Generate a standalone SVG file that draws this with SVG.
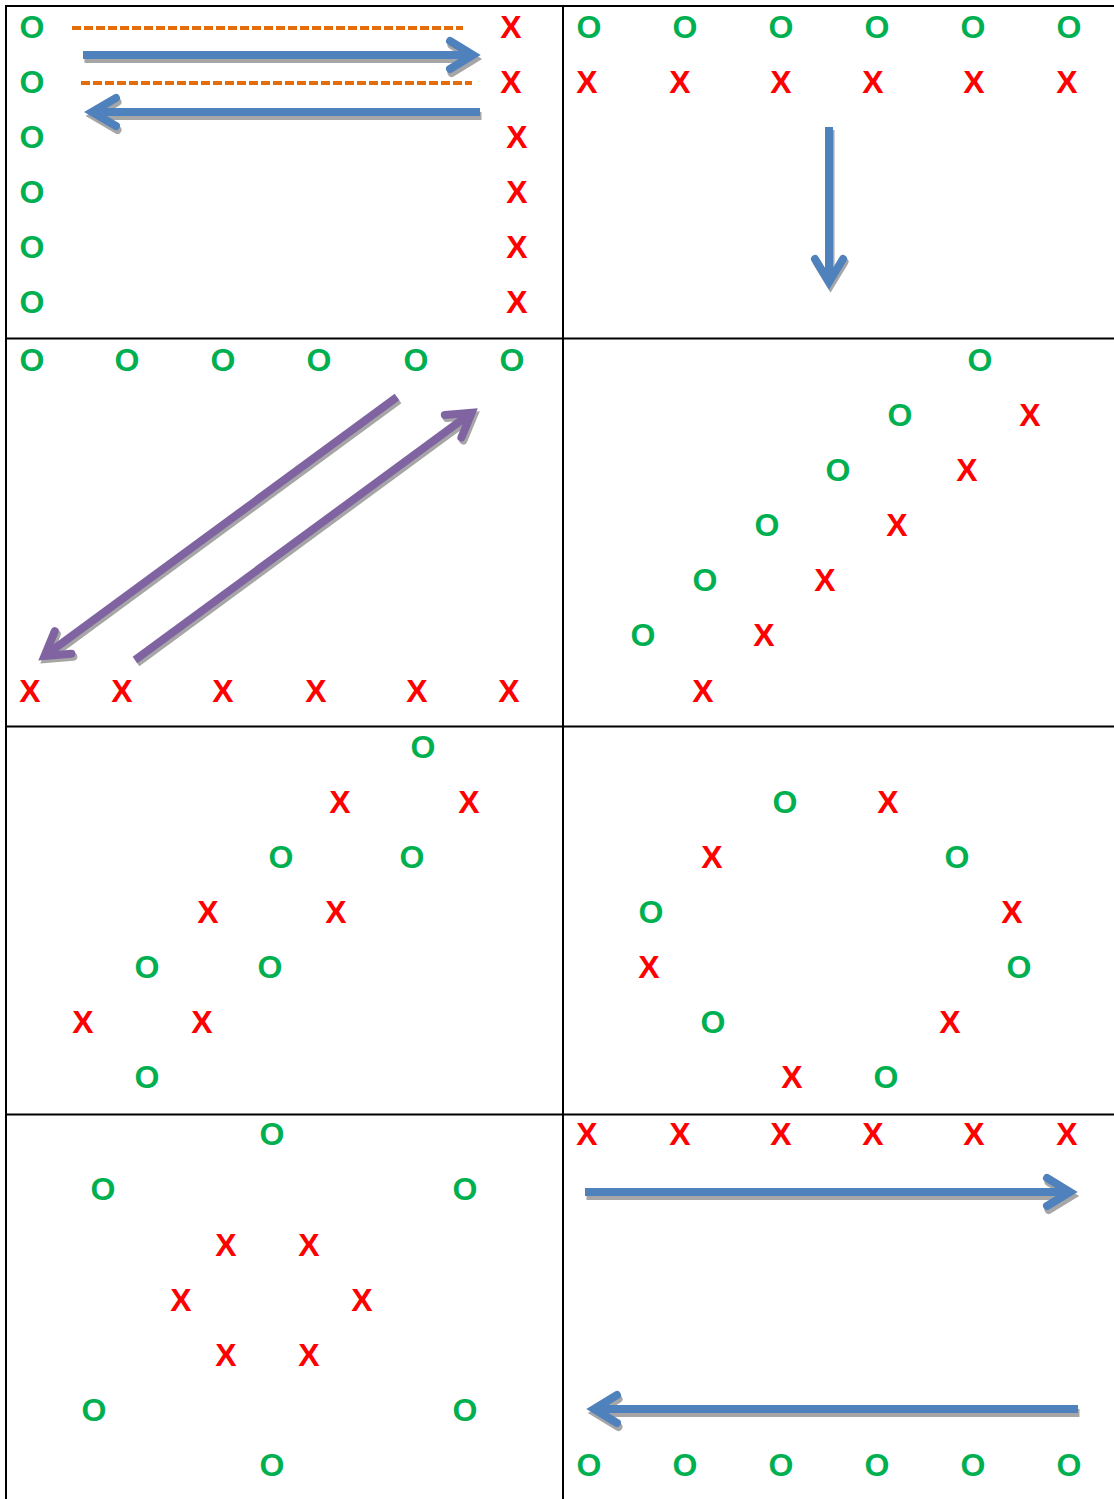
<svg xmlns="http://www.w3.org/2000/svg" xmlns:xlink="http://www.w3.org/1999/xlink" width="1114" height="1499" viewBox="0 0 1114 1499">
<style>
text{font-family:"Liberation Sans",Arial,sans-serif;font-weight:bold;font-size:32px;text-anchor:middle}
.o{fill:#00B050}
.x{fill:#FF0000}
.grid{stroke:#000;stroke-width:2;fill:none}
.arr{fill:none;stroke-width:8}
.sh{stroke-linecap:butt}
.hd{stroke-linecap:round;stroke-linejoin:miter;stroke-miterlimit:10}
.blue{stroke:#4F81BD}
.purple{stroke:#8064A2}
.shadow{stroke:#A6A6A6}
.dash{stroke:#E46C0A;stroke-width:4;stroke-dasharray:9 3;fill:none}
</style>
<rect width="1114" height="1499" fill="#fff"/>
<g id="grid">
<path class="grid" d="M5,6 H1114 M6,5 V1499 M563,5 V1499 M5,338.5 H1114 M5,726.5 H1114 M5,1114.5 H1114"/>
</g>
<g id="connectors">
<defs>
<g id="a1"><path class="sh" d="M83,55 H473"/><path class="hd" d="M450,41 L473,55 L450,69"/></g>
<g id="a2"><path class="sh" d="M480,112 H92"/><path class="hd" d="M116,98 L92,112 L116,126"/></g>
<g id="a3"><path class="sh" d="M829,127 V282"/><path class="hd" d="M815,259 L829,282 L843,259"/></g>
<g id="a4"><path class="sh" d="M397,397 L44.5,656"/><path class="hd" d="M54.8,631.1 L44.5,656 L71.4,653.7"/></g>
<g id="a5"><path class="sh" d="M135,660 L471.6,412.7"/><path class="hd" d="M461.4,437.6 L471.6,412.7 L444.8,415"/></g>
<g id="a6"><path class="sh" d="M585,1192 H1070"/><path class="hd" d="M1047,1178 L1070,1192 L1047,1206"/></g>
<g id="a7"><path class="sh" d="M1078,1409 H594"/><path class="hd" d="M617,1395 L594,1409 L617,1423"/></g>
</defs>
<line class="dash" x1="72" y1="28" x2="463" y2="28"/>
<line class="dash" x1="81" y1="83" x2="472" y2="83"/>
<use xlink:href="#a1" class="arr shadow" transform="translate(1.5,4)"/>
<use xlink:href="#a1" class="arr blue"/>
<use xlink:href="#a2" class="arr shadow" transform="translate(1.5,4)"/>
<use xlink:href="#a2" class="arr blue"/>
<use xlink:href="#a3" class="arr shadow" transform="translate(1.5,3)"/>
<use xlink:href="#a3" class="arr blue"/>
<use xlink:href="#a4" class="arr shadow" transform="translate(2,3)"/>
<use xlink:href="#a4" class="arr purple"/>
<use xlink:href="#a5" class="arr shadow" transform="translate(2,3)"/>
<use xlink:href="#a5" class="arr purple"/>
<use xlink:href="#a6" class="arr shadow" transform="translate(1.5,4)"/>
<use xlink:href="#a6" class="arr blue"/>
<use xlink:href="#a7" class="arr shadow" transform="translate(1.5,4)"/>
<use xlink:href="#a7" class="arr blue"/>
</g>
<g id="panel1">
<text class="o" x="32" y="37.5">O</text><text class="o" x="32" y="92.5">O</text><text class="o" x="32" y="147.5">O</text><text class="o" x="32" y="202.5">O</text><text class="o" x="32" y="257.5">O</text><text class="o" x="32" y="312.5">O</text>
<text class="x" x="511" y="37.5">X</text><text class="x" x="511" y="92.5">X</text><text class="x" x="517" y="147.5">X</text><text class="x" x="517" y="202.5">X</text><text class="x" x="517" y="257.5">X</text><text class="x" x="517" y="312.5">X</text>
</g>
<g id="panel2">
<text class="o" x="589" y="37.5">O</text><text class="o" x="685" y="37.5">O</text><text class="o" x="781" y="37.5">O</text><text class="o" x="877" y="37.5">O</text><text class="o" x="973" y="37.5">O</text><text class="o" x="1069" y="37.5">O</text>
<text class="x" x="587" y="92.5">X</text><text class="x" x="680" y="92.5">X</text><text class="x" x="781" y="92.5">X</text><text class="x" x="873" y="92.5">X</text><text class="x" x="974" y="92.5">X</text><text class="x" x="1067" y="92.5">X</text>
</g>
<g id="panel3">
<text class="o" x="32" y="370.5">O</text><text class="o" x="127" y="370.5">O</text><text class="o" x="223" y="370.5">O</text><text class="o" x="319" y="370.5">O</text><text class="o" x="416" y="370.5">O</text><text class="o" x="512" y="370.5">O</text>
<text class="x" x="30" y="701.5">X</text><text class="x" x="122" y="701.5">X</text><text class="x" x="223" y="701.5">X</text><text class="x" x="316" y="701.5">X</text><text class="x" x="417" y="701.5">X</text><text class="x" x="509" y="701.5">X</text>
</g>
<g id="panel4">
<text class="o" x="980" y="370.5">O</text><text class="o" x="900" y="425.5">O</text><text class="o" x="838" y="480.5">O</text><text class="o" x="767" y="535.5">O</text><text class="o" x="705" y="590.5">O</text><text class="o" x="643" y="645.5">O</text>
<text class="x" x="1030" y="425.5">X</text><text class="x" x="967" y="480.5">X</text><text class="x" x="897" y="535.5">X</text><text class="x" x="825" y="590.5">X</text><text class="x" x="764" y="645.5">X</text><text class="x" x="703" y="701.5">X</text>
</g>
<g id="panel5">
<text class="o" x="423" y="757.5">O</text>
<text class="x" x="340" y="812.5">X</text><text class="x" x="469" y="812.5">X</text>
<text class="o" x="281" y="867.5">O</text><text class="o" x="412" y="867.5">O</text>
<text class="x" x="208" y="922.5">X</text><text class="x" x="336" y="922.5">X</text>
<text class="o" x="147" y="977.5">O</text><text class="o" x="270" y="977.5">O</text>
<text class="x" x="83" y="1032.5">X</text><text class="x" x="202" y="1032.5">X</text>
<text class="o" x="147" y="1087.5">O</text>
</g>
<g id="panel6">
<text class="o" x="785" y="812.5">O</text><text class="x" x="888" y="812.5">X</text>
<text class="x" x="712" y="867.5">X</text><text class="o" x="957" y="867.5">O</text>
<text class="o" x="651" y="922.5">O</text><text class="x" x="1012" y="922.5">X</text>
<text class="x" x="649" y="977.5">X</text><text class="o" x="1019" y="977.5">O</text>
<text class="o" x="713" y="1032.5">O</text><text class="x" x="950" y="1032.5">X</text>
<text class="x" x="792" y="1087.5">X</text><text class="o" x="886" y="1087.5">O</text>
</g>
<g id="panel7">
<text class="o" x="272" y="1144.5">O</text>
<text class="o" x="103" y="1199.5">O</text><text class="o" x="465" y="1199.5">O</text>
<text class="x" x="226" y="1255.5">X</text><text class="x" x="309" y="1255.5">X</text>
<text class="x" x="181" y="1310.5">X</text><text class="x" x="362" y="1310.5">X</text>
<text class="x" x="226" y="1365.5">X</text><text class="x" x="309" y="1365.5">X</text>
<text class="o" x="94" y="1420.5">O</text><text class="o" x="465" y="1420.5">O</text>
<text class="o" x="272" y="1475.5">O</text>
</g>
<g id="panel8">
<text class="x" x="587" y="1144.5">X</text><text class="x" x="680" y="1144.5">X</text><text class="x" x="781" y="1144.5">X</text><text class="x" x="873" y="1144.5">X</text><text class="x" x="974" y="1144.5">X</text><text class="x" x="1067" y="1144.5">X</text>
<text class="o" x="589" y="1475.5">O</text><text class="o" x="685" y="1475.5">O</text><text class="o" x="781" y="1475.5">O</text><text class="o" x="877" y="1475.5">O</text><text class="o" x="973" y="1475.5">O</text><text class="o" x="1069" y="1475.5">O</text>
</g>
</svg>
